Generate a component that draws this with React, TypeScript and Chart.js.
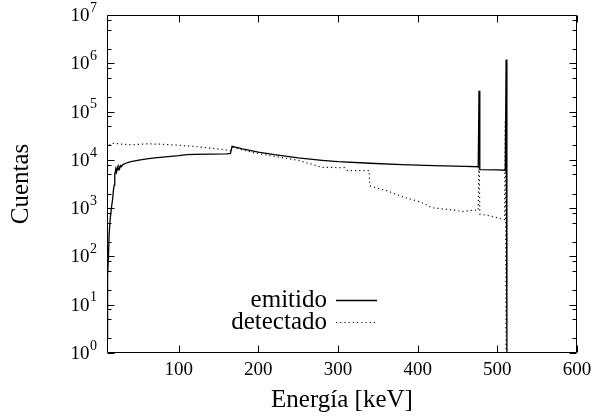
import React, { useEffect, useRef } from "react";
import { Chart, registerables } from "chart.js";

Chart.register(...registerables);

// ---- data ----
const xTickValues = [100, 200, 300, 400, 500, 600];
const yDecadeExponents = [0, 1, 2, 3, 4, 5, 6, 7];
const yMinorMultipliers = [2, 5, 8];

const emitidoEnergy = [
  10, 10.5, 11, 12, 12.6, 14, 15.5, 17, 18, 19, 19.5, 20, 21, 22, 23, 24, 25, 26, 27, 28,
  30, 35, 40, 50, 60, 70, 80, 90, 100, 110, 120, 140, 160, 165, 167, 170, 180, 200, 220,
  250, 280, 300, 340, 380, 420, 460, 476, 477, 478, 500, 510, 511, 512,
];
const emitidoCounts = [
  2, 15, 40, 120, 270, 600, 1000, 1500, 2300, 3000, 5500, 4800, 6500, 5600, 7000, 6200, 7300, 6700, 7600, 7200,
  8000, 8700, 9200, 9900, 10500, 11000, 11400, 11800, 12200, 12800, 13000, 13100, 13300, 13600, 19000, 18500, 16800, 14500, 12800,
  11000, 9800, 9200, 8500, 8000, 7600, 7300, 7200, 270000, 6300, 6200, 6100, 1200000, 1,
];

const detectadoEnergy = [
  10, 12, 15, 20, 30, 40, 60, 80, 100, 120, 140, 160, 165, 168, 172, 180, 200, 220, 250, 280,
  308, 312, 339, 340, 342, 361, 382, 403, 418, 445, 457, 470, 476, 477, 478, 490, 505, 509, 510, 511,
];
const detectadoCounts = [
  17000, 19000, 22000, 22000, 21000, 20500, 21500, 21000, 20000, 19000, 17500, 16000, 15500, 18000, 17500, 16000, 13500, 11800, 9800, 7000,
  6900, 6000, 6000, 2900, 2800, 2300, 1700, 1350, 1020, 910, 850, 910, 900, 14000, 750, 700, 600, 580, 66000, 1,
];

const legendLabels = ["emitido", "detectado"];
const xTitle = "Energía [keV]";
const yTitle = "Cuentas";

const serif = '"Liberation Serif", "DejaVu Serif", serif';

const framePlugin = {
  id: "gnuplotFrame",
  afterDraw(chart: any) {
    const { ctx, chartArea: a, scales } = chart;
    const xs = scales.x;
    const ys = scales.y;
    const L = Math.round(a.left) + 0.5;
    const R = Math.round(a.right) - 0.5;
    const T = Math.round(a.top) + 0.5;
    const B = Math.round(a.bottom) - 0.5;
    ctx.save();
    ctx.strokeStyle = "#000";
    ctx.lineWidth = 1;
    ctx.beginPath();
    ctx.rect(L, T, R - L, B - T);
    ctx.stroke();

    // x ticks (inside, mirrored)
    ctx.beginPath();
    for (const v of xTickValues) {
      const px = Math.round(xs.getPixelForValue(v)) + 0.5;
      ctx.moveTo(px, B);
      ctx.lineTo(px, B - 7);
      ctx.moveTo(px, T);
      ctx.lineTo(px, T + 7);
    }
    // y ticks
    for (const e of yDecadeExponents) {
      const py = Math.round(ys.getPixelForValue(Math.pow(10, e))) + 0.5;
      ctx.moveTo(L, py);
      ctx.lineTo(L + 7, py);
      ctx.moveTo(R, py);
      ctx.lineTo(R - 7, py);
      if (e < 7) {
        for (const m of yMinorMultipliers) {
          const pm = Math.round(ys.getPixelForValue(m * Math.pow(10, e))) + 0.5;
          ctx.moveTo(L, pm);
          ctx.lineTo(L + 4, pm);
          ctx.moveTo(R, pm);
          ctx.lineTo(R - 4, pm);
        }
      }
    }
    ctx.stroke();

    ctx.fillStyle = "#000";
    // x tick labels
    ctx.font = `19px ${serif}`;
    ctx.textAlign = "center";
    ctx.textBaseline = "middle";
    for (const v of xTickValues) {
      ctx.fillText(String(v), xs.getPixelForValue(v), a.bottom + 17);
    }
    // y tick labels 10^e
    for (const e of yDecadeExponents) {
      const py = ys.getPixelForValue(Math.pow(10, e));
      ctx.font = `14px ${serif}`;
      const ew = ctx.measureText(String(e)).width;
      const right = a.left - 10;
      ctx.textAlign = "left";
      ctx.fillText(String(e), right - ew, py - 7);
      ctx.font = `19px ${serif}`;
      ctx.textAlign = "right";
      ctx.fillText("10", right - ew - 0.5, py + 1);
    }

    // axis titles
    ctx.font = `25px ${serif}`;
    ctx.textAlign = "center";
    ctx.fillText(xTitle, (a.left + a.right) / 2, a.bottom + 47);
    ctx.save();
    ctx.translate(21, (a.top + a.bottom) / 2);
    ctx.rotate(-Math.PI / 2);
    ctx.fillText(yTitle, 0, 0);
    ctx.restore();

    // legend
    const rows = [300, 322];
    ctx.textAlign = "right";
    ctx.font = `25px ${serif}`;
    legendLabels.forEach((lab, i) => {
      ctx.fillText(lab, 327, rows[i]);
      const ds = chart.data.datasets[i];
      ctx.beginPath();
      ctx.strokeStyle = ds.borderColor;
      ctx.lineWidth = ds.borderWidth;
      ctx.setLineDash(ds.borderDash || []);
      ctx.moveTo(336, rows[i] + 0.5);
      ctx.lineTo(377, rows[i] + 0.5);
      ctx.stroke();
      ctx.setLineDash([]);
    });
    ctx.restore();
  },
};

export default function App() {
  const ref = useRef<HTMLCanvasElement | null>(null);
  useEffect(() => {
    if (!ref.current) return;
    const chart = new Chart(ref.current, {
      type: "line",
      data: {
        datasets: [
          {
            label: legendLabels[0],
            data: emitidoEnergy.map((x, i) => ({ x, y: emitidoCounts[i] })),
            borderColor: "#000",
            borderWidth: 1.3,
            pointRadius: 0,
            tension: 0,
            fill: false,
          },
          {
            label: legendLabels[1],
            data: detectadoEnergy.map((x, i) => ({ x, y: detectadoCounts[i] })),
            borderColor: "#111",
            borderWidth: 1.2,
            borderDash: [1.2, 3],
            pointRadius: 0,
            tension: 0,
            fill: false,
          },
        ],
      },
      options: {
        animation: false,
        responsive: false,
        devicePixelRatio: 1,
        layout: { padding: { left: 107, right: 19, top: 15, bottom: 63 } },
        scales: {
          x: { type: "linear", min: 10, max: 600, display: false },
          y: { type: "logarithmic", min: 1, max: 1e7, display: false },
        },
        plugins: { legend: { display: false }, tooltip: { enabled: false } },
      },
      plugins: [framePlugin],
    });
    return () => chart.destroy();
  }, []);
  return (
    <div style={{ position: "absolute", left: 0, top: 0, width: 596, height: 416, background: "#fff" }}>
      <canvas ref={ref} width={596} height={416} />
    </div>
  );
}
